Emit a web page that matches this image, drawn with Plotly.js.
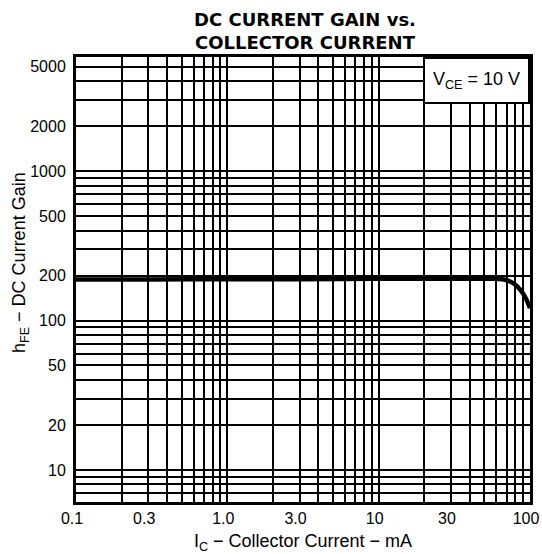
<!DOCTYPE html>
<html>
<head>
<meta charset="utf-8">
<script src="https://cdn.plot.ly/plotly-3.0.1.min.js"></script>
<style>html,body{margin:0;padding:0;background:#fff;}#chart{width:542px;height:554px;}</style>
</head>
<body>
<div id="chart"></div>
<script>
// Collector current (mA) and DC current gain
var collectorCurrent = [0.1, 0.3, 1, 3, 10, 30, 45, 60, 67.6, 78.8, 87.4, 94.2, 100];
var dcGain = [188, 188, 189, 189, 190, 190, 190, 190, 188, 176, 158, 140, 121];

// Labelled ticks
var xTickVals = [0.1, 0.3, 1, 3, 10, 30, 100];
var xTickText = ['0.1', '0.3', '1.0', '3.0', '10', '30', '100'];
var yTickVals = [10, 20, 50, 100, 200, 500, 1000, 2000, 5000];
var yTickText = ['10', '20', '50', '100', '200', '500', '1000', '2000', '5000'];
// Unlabelled grid lines of the log paper
var xMinorVals = [0.2,0.4,0.5,0.6,0.7,0.8,0.9,2,4,5,6,7,8,9,20,40,50,60,70,80,90];
var yMinorVals = [7,8,9,30,40,60,70,80,90,300,400,600,700,800,900,3000,4000];
var yRange = [6.1, 5800];

var FONT = 'Liberation Sans, Arial, Helvetica, sans-serif';

var trace = {
  x: collectorCurrent,
  y: dcGain,
  type: 'scatter',
  mode: 'lines',
  line: {color: '#000', width: 4.5, shape: 'spline', smoothing: 1},
  hoverinfo: 'skip'
};

var axisCommon = {
  type: 'log',
  showgrid: true,
  gridcolor: '#000',
  gridwidth: 2,
  showline: true,
  linecolor: '#000',
  linewidth: 3,
  mirror: true,
  ticks: '',
  zeroline: false,
  tickmode: 'array',
  tickfont: {family: FONT, size: 16, color: '#000'},
  automargin: false
};

var layout = {
  width: 542,
  height: 554,
  margin: {l: 76, r: 12, t: 57, b: 52},
  paper_bgcolor: '#fff',
  plot_bgcolor: '#fff',
  showlegend: false,
  title: {
    text: 'DC CURRENT GAIN vs.<br>COLLECTOR CURRENT',
    font: {family: 'DejaVu Sans, sans-serif', size: 18, color: '#000', weight: 'bold'},
    x: 305 / 542,
    xanchor: 'center',
    xref: 'container',
    y: 1 - 26 / 554,
    yanchor: 'top',
    yref: 'container'
  },
  xaxis: Object.assign({}, axisCommon, {
    range: [-1, 2],
    tickvals: xTickVals,
    ticktext: xTickText,
    minor: {tickmode: 'array', tickvals: xMinorVals, showgrid: true, gridcolor: '#000', gridwidth: 2, ticks: ''},
    ticklabelstandoff: 0,
    ticklabelshift: -4,
    title: {
      text: 'I<sub>C</sub> − Collector Current − mA',
      font: {family: FONT, size: 18, color: '#000'},
      standoff: 10
    }
  }),
  yaxis: Object.assign({}, axisCommon, {
    range: [Math.log10(yRange[0]), Math.log10(yRange[1])],
    tickvals: yTickVals,
    ticktext: yTickText,
    minor: {tickmode: 'array', tickvals: yMinorVals, showgrid: true, gridcolor: '#000', gridwidth: 2, ticks: ''},
    ticklabelstandoff: 4
  }),
  annotations: [
    {
      text: 'V<sub>CE</sub> = 10 V',
      xref: 'paper', yref: 'paper',
      x: 1, y: 1, xanchor: 'right', yanchor: 'top',
      showarrow: false,
      font: {family: FONT, size: 18, color: '#000'},
      bgcolor: '#fff',
      bordercolor: '#000',
      borderwidth: 2,
      borderpad: 2,
      width: 99,
      height: 39
    },
    {
      text: 'h<sub>FE</sub> − DC Current Gain',
      xref: 'paper', yref: 'paper',
      x: (20 - 76) / 454, y: (502 - 263) / 445,
      xanchor: 'center', yanchor: 'middle',
      textangle: -90,
      showarrow: false,
      font: {family: FONT, size: 18, color: '#000'}
    }
  ]
};

Plotly.newPlot('chart', [trace], layout, {displayModeBar: false, staticPlot: true});
</script>
</body>
</html>
